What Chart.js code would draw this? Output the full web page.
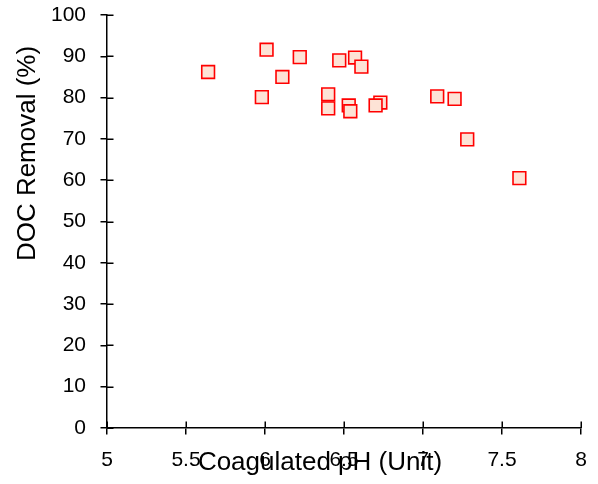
<!DOCTYPE html>
<html>
<head>
<meta charset="utf-8">
<script src="https://cdn.jsdelivr.net/npm/chart.js@4/dist/chart.umd.min.js"></script>
<style>
  html, body { margin: 0; padding: 0; background: #ffffff; }
  #wrap { width: 598px; height: 484px; position: relative; }
</style>
</head>
<body>
<div id="wrap"><canvas id="c" width="598" height="484"></canvas></div>
<script>
// ---- data ----
const phValues   = [5.64, 6.01, 5.98, 6.11, 6.22, 6.40, 6.40, 6.47, 6.53, 6.54, 6.57, 6.61, 6.73, 6.70, 7.09, 7.20, 7.28, 7.61];
const docRemoval = [86.2, 91.6, 80.1, 85.0, 89.8, 80.8, 77.4, 89.0, 78.1, 76.7, 89.7, 87.5, 78.8, 78.1, 80.3, 79.7, 69.9, 60.5];
const xTitle = 'Coagulated pH (Unit)';
const yTitle = 'DOC Removal (%)';
const xRange = [5, 8];
const xStep = 0.5;
const yRange = [0, 100];
const yStep = 10;

const FONT = "'Liberation Sans', Arial, Helvetica, sans-serif";
const points = phValues.map((v, i) => ({ x: v, y: docRemoval[i] }));

const innerTicks = {
  id: 'innerTicks',
  beforeDatasetsDraw(chart) {
    const { ctx, chartArea: ca, scales: { x, y } } = chart;
    ctx.save();
    ctx.strokeStyle = '#000';
    ctx.lineWidth = 1.5;
    ctx.beginPath();
    x.ticks.forEach(t => {
      const px = Math.round(x.getPixelForValue(t.value)) + 0.25;
      ctx.moveTo(px, ca.bottom);
      ctx.lineTo(px, ca.bottom - 6.5);
    });
    y.ticks.forEach(t => {
      const py = Math.round(y.getPixelForValue(t.value)) + 0.25;
      ctx.moveTo(ca.left, py);
      ctx.lineTo(ca.left + 6.5, py);
    });
    ctx.stroke();
    ctx.restore();
  }
};

const axisTitles = {
  id: 'axisTitles',
  afterDraw(chart) {
    const { ctx, chartArea: ca } = chart;
    ctx.save();
    ctx.fillStyle = '#000';
    ctx.font = '26px ' + FONT;
    ctx.textAlign = 'center';
    ctx.textBaseline = 'alphabetic';
    ctx.fillText(xTitle, ca.left + 213, ca.bottom + 41.5);
    ctx.translate(ca.left - 72, ca.top + 138.5);
    ctx.rotate(-Math.PI / 2);
    ctx.fillText(yTitle, 0, 0);
    ctx.restore();
  }
};

function zeroPad(s) { s.paddingTop = 0; s.paddingBottom = 0; s.paddingLeft = 0; s.paddingRight = 0; }

new Chart(document.getElementById('c'), {
  type: 'scatter',
  data: {
    datasets: [{
      data: points,
      pointStyle: 'rect',
      pointRadius: 9,
      pointHoverRadius: 9,
      pointBorderWidth: 1.6,
      borderColor: '#ff0000',
      backgroundColor: '#fde3d6',
      showLine: false
    }]
  },
  options: {
    responsive: false,
    animation: false,
    devicePixelRatio: 1,
    layout: { padding: { left: 0, right: 17, top: 15, bottom: 0 } },
    plugins: { legend: { display: false }, tooltip: { enabled: false }, title: { display: false } },
    scales: {
      x: {
        type: 'linear',
        min: xRange[0], max: xRange[1],
        afterFit(s) { s.height = 56; zeroPad(s); },
        ticks: { stepSize: xStep, color: '#000', padding: 13, font: { family: FONT, size: 21 },
                 callback: v => String(v) },
        grid: { display: true, drawOnChartArea: false, drawTicks: true, tickLength: 6.5, color: '#000', lineWidth: 1.5 },
        border: { display: true, color: '#000', width: 1.5 },
        title: { display: false }
      },
      y: {
        type: 'linear',
        min: yRange[0], max: yRange[1],
        afterFit(s) { s.width = 107; zeroPad(s); },
        ticks: { stepSize: yStep, color: '#000', padding: 14.5, font: { family: FONT, size: 21 },
                 callback: v => String(v) },
        grid: { display: true, drawOnChartArea: false, drawTicks: true, tickLength: 6.5, color: '#000', lineWidth: 1.5 },
        border: { display: true, color: '#000', width: 1.5 },
        title: { display: false }
      }
    }
  },
  plugins: [innerTicks, axisTitles]
});
</script>
</body>
</html>
